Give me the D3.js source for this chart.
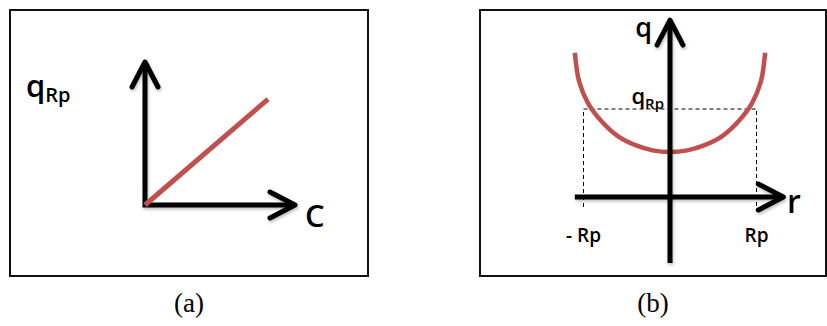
<!DOCTYPE html>
<html>
<head>
<meta charset="utf-8">
<script src="https://cdn.jsdelivr.net/npm/d3@7"></script>
<style>
  body { margin: 0; background: #fff; }
  svg { display: block; }
  .lbl { font-family: 'Open Sans', 'DejaVu Sans', sans-serif; font-weight: 600; fill: #000; }
  .cap { font-family: 'Liberation Serif', 'Times New Roman', serif; font-size: 27px; fill: #000; }
</style>
</head>
<body>
<svg id="chart"></svg>
<script>
const width = 827;
const height = 326;

// panel (a): q_Rp grows linearly with C
const cAxis = [0, 1];
const qRpAxis = [0, 1];
const cValues = [0, 0.82];
const qRpValues = [0, 0.74];

// panel (b): q(r) profile (r in units of Rp, q in units of q_Rp)
const rAxis = [-1.1, 1.31];
const qAxis = [-0.75, 2.01];
const rValues = [-1.1, -1.05, -0.95, -0.8, -0.6, -0.4, -0.2, 0, 0.2, 0.4, 0.6, 0.8, 0.95, 1.05, 1.1];
const qValues = [1.64, 1.31, 1.07, 0.87, 0.69, 0.59, 0.53, 0.51, 0.53, 0.59, 0.69, 0.87, 1.07, 1.31, 1.64];
const rTicks = [-1, 1];
const rTickLabels = ['- Rp', 'Rp'];
const qRpLevel = 1;

const captions = ['(a)', '(b)'];

const red = '#c0504d';

const svg = d3.select('#chart')
    .attr('width', width)
    .attr('height', height);

const defs = svg.append('defs');
defs.append('marker')
    .attr('id', 'arrow')
    .attr('viewBox', '-30 -16 34 32')
    .attr('markerUnits', 'userSpaceOnUse')
    .attr('markerWidth', 34)
    .attr('markerHeight', 32)
    .attr('refX', 0)
    .attr('refY', 0)
    .attr('orient', 'auto-start-reverse')
    .append('path')
    .attr('d', 'M-25,-13L0,0L-25,13')
    .attr('fill', 'none')
    .attr('stroke', '#000')
    .attr('stroke-width', 5)
    .attr('stroke-linecap', 'round')
    .attr('stroke-linejoin', 'round');

// soft shadow under the axes (user space so flat lines keep a region)
const shadow = defs.append('filter')
    .attr('id', 'shadow')
    .attr('filterUnits', 'userSpaceOnUse')
    .attr('x', 0).attr('y', 0)
    .attr('width', width).attr('height', height);
shadow.append('feDropShadow')
    .attr('dx', 1).attr('dy', 2)
    .attr('stdDeviation', 1.5)
    .attr('flood-color', '#000')
    .attr('flood-opacity', 0.25);

// frames
const frames = [[10, 10, 358, 266], [480, 10, 346, 266]];
svg.selectAll('rect.frame')
    .data(frames)
    .enter().append('rect')
    .attr('class', 'frame')
    .attr('x', d => d[0])
    .attr('y', d => d[1])
    .attr('width', d => d[2])
    .attr('height', d => d[3])
    .attr('fill', 'none')
    .attr('stroke', '#111')
    .attr('stroke-width', 2);

svg.selectAll('text.cap')
    .data(captions)
    .enter().append('text')
    .attr('class', 'cap')
    .attr('x', (d, i) => frames[i][0] + frames[i][2] / 2)
    .attr('y', 312)
    .attr('text-anchor', 'middle')
    .text(d => d);

// ---- panel (a)
const xA = d3.scaleLinear().domain([0, 1]).range([145, 295]);
const yA = d3.scaleLinear().domain([0, 1]).range([205, 62]);

const ga = svg.append('g');

ga.append('path')
    .attr('d', d3.line()([
        [xA(cAxis[0]), yA(qRpAxis[1])],
        [xA(cAxis[0]), yA(qRpAxis[0])],
        [xA(cAxis[1]), yA(qRpAxis[0])]
    ]))
    .attr('fill', 'none')
    .attr('stroke', '#000')
    .attr('stroke-width', 5)
    .attr('stroke-linejoin', 'miter')
    .attr('marker-start', 'url(#arrow)')
    .attr('marker-end', 'url(#arrow)')
    .attr('filter', 'url(#shadow)');

ga.append('path')
    .attr('d', d3.line().x(d => xA(d[0])).y(d => yA(d[1]))(d3.zip(cValues, qRpValues)))
    .attr('fill', 'none')
    .attr('stroke', red)
    .attr('stroke-width', 5);

const qa = ga.append('text').attr('class', 'lbl').attr('x', 26).attr('y', 97);
qa.append('tspan').attr('font-size', 31).text('q');
qa.append('tspan').attr('font-size', 20).attr('dy', 5).text('Rp');

ga.append('text')
    .attr('class', 'lbl')
    .attr('x', 305)
    .attr('y', 227)
    .attr('font-size', 31)
    .attr('font-weight', 500)
    .text('C');

// ---- panel (b)
const xB = d3.scaleLinear().domain([0, 1]).range([670, 756.5]);
const yB = d3.scaleLinear().domain([0, 1]).range([197, 109]);

const gb = svg.append('g');

// dashed guides
gb.append('path')
    .attr('d', d3.line()([
        [xB(rTicks[0]), yB(0) + 10],
        [xB(rTicks[0]), yB(qRpLevel)],
        [xB(rTicks[1]), yB(qRpLevel)],
        [xB(rTicks[1]), yB(0) + 10]
    ]))
    .attr('fill', 'none')
    .attr('stroke', '#000')
    .attr('stroke-width', 1)
    .attr('stroke-dasharray', '4,3');

gb.append('path')
    .attr('d', d3.line().x(d => xB(d[0])).y(d => yB(d[1])).curve(d3.curveCatmullRom)(d3.zip(rValues, qValues)))
    .attr('fill', 'none')
    .attr('stroke', red)
    .attr('stroke-width', 4.5);

gb.append('line')
    .attr('x1', xB(rAxis[0])).attr('y1', yB(0))
    .attr('x2', xB(rAxis[1])).attr('y2', yB(0))
    .attr('stroke', '#000')
    .attr('stroke-width', 5)
    .attr('marker-end', 'url(#arrow)')
    .attr('filter', 'url(#shadow)');

gb.append('line')
    .attr('x1', xB(0)).attr('y1', yB(qAxis[0]))
    .attr('x2', xB(0)).attr('y2', yB(qAxis[1]))
    .attr('stroke', '#000')
    .attr('stroke-width', 5)
    .attr('marker-end', 'url(#arrow)')
    .attr('filter', 'url(#shadow)');

gb.selectAll('text.tick')
    .data(rTicks)
    .enter().append('text')
    .attr('class', 'lbl tick')
    .attr('x', d => xB(d))
    .attr('y', 242)
    .attr('font-size', 19)
    .attr('text-anchor', 'middle')
    .text((d, i) => rTickLabels[i]);

const qb = gb.append('text').attr('class', 'lbl')
    .attr('x', xB(0) - 6)
    .attr('y', yB(qRpLevel) - 5)
    .attr('text-anchor', 'end');
qb.append('tspan').attr('font-size', 22).text('q');
qb.append('tspan').attr('font-size', 15).attr('dy', 5).text('Rp');

gb.append('text')
    .attr('class', 'lbl')
    .attr('x', xB(0) - 18)
    .attr('y', 37)
    .attr('font-size', 27)
    .attr('text-anchor', 'end')
    .text('q');

gb.append('text')
    .attr('class', 'lbl')
    .attr('x', 787)
    .attr('y', 213)
    .attr('font-size', 32)
    .text('r');
</script>
</body>
</html>
